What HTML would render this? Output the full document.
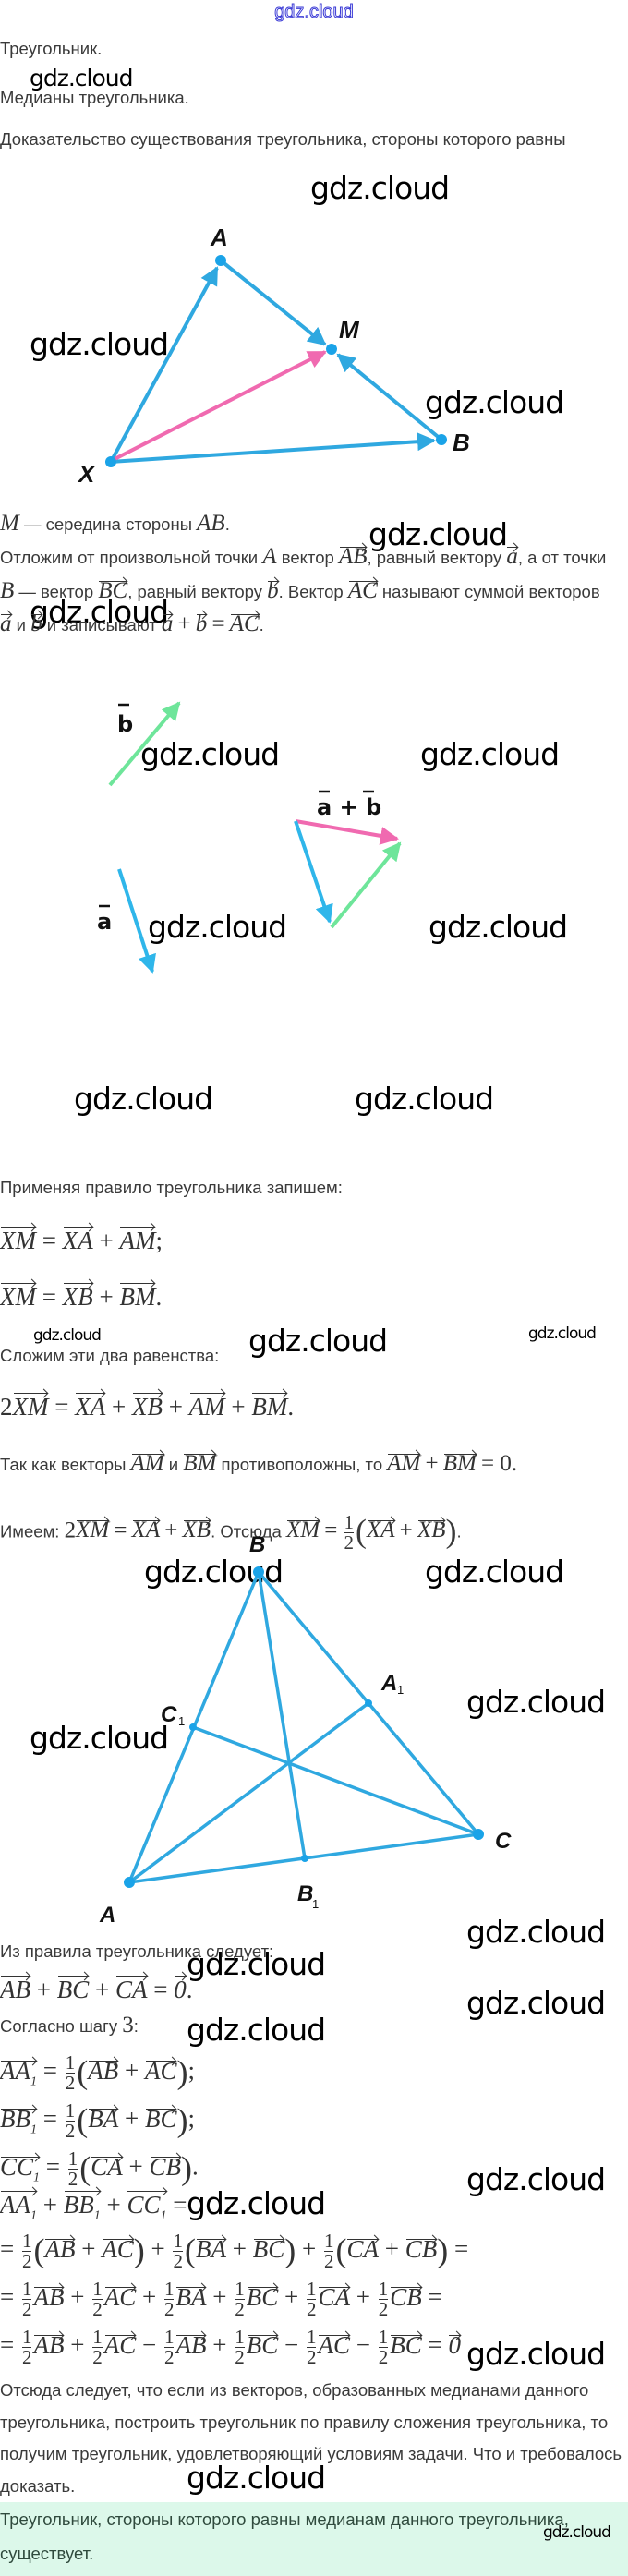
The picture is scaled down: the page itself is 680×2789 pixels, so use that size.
<!DOCTYPE html>
<html><head><meta charset="utf-8">
<style>
body{margin:0;width:680px;height:2789px;position:relative;background:#fff;overflow:hidden;font-family:"Liberation Sans",sans-serif;color:#3a3a3a}
.t{position:absolute;left:0;font-size:18.5px;line-height:22px;white-space:nowrap}
.m{font-family:"Liberation Serif",serif;font-style:italic;font-size:25px;color:#333}
.n{font-family:"Liberation Serif",serif;font-style:normal}
.v{position:relative;display:inline-block;font-family:"Liberation Serif",serif;font-style:italic}
.v::before{content:"";position:absolute;left:1px;right:1px;top:0px;border-top:1.3px solid #333}
.v::after{content:"";position:absolute;right:1px;top:-3px;width:6px;height:6px;border-top:1.3px solid #333;border-right:1.3px solid #333;transform:rotate(45deg)}
.f{display:inline-block;vertical-align:middle;text-align:center;font-family:"Liberation Serif",serif;font-style:normal;line-height:21px;font-size:21px;margin:0 2px}
.f span{display:block}
.f .u{border-bottom:1px solid #333}
.w{position:absolute;font-family:"DejaVu Sans","Liberation Sans",sans-serif;color:#000;white-space:nowrap;letter-spacing:-1px}
.w34{font-size:33px;line-height:36px}
.w26{font-size:25px;line-height:28px}
.w18{font-size:17px;line-height:20px}
.p{font-family:"Liberation Serif",serif;font-style:normal;font-size:36px;vertical-align:-5px}
sub{font-size:14px}
</style></head><body>

<div style="position:absolute;left:0;width:680px;top:2px;text-align:center;font-size:20px;color:#fff;-webkit-text-stroke:1px #3b3bd6;font-family:'Liberation Sans',sans-serif">gdz.cloud</div>

<div class="t" style="top:42px">Треугольник.</div>
<div class="w w26" style="left:32px;top:71px">gdz.cloud</div>
<div class="t" style="top:95px">Медианы треугольника.</div>
<div class="t" style="top:140px">Доказательство существования треугольника, стороны которого равны</div>
<div class="w w34" style="left:336px;top:186px">gdz.cloud</div>

<svg style="position:absolute;left:0;top:0" width="680" height="560">
<defs>
<marker id="hb" viewBox="0 0 10 10" refX="9" refY="5" markerWidth="5" markerHeight="5" orient="auto"><path d="M0,0L10,5L0,10z" fill="#2fa8e0"/></marker>
<marker id="hp" viewBox="0 0 10 10" refX="9" refY="5" markerWidth="5" markerHeight="5" orient="auto"><path d="M0,0L10,5L0,10z" fill="#f06ab0"/></marker>
</defs>
<g stroke-width="4" fill="none">
<line x1="120" y1="500" x2="235" y2="290" stroke="#2fa8e0" marker-end="url(#hb)"/>
<line x1="239" y1="282" x2="352" y2="373" stroke="#2fa8e0" marker-end="url(#hb)"/>
<line x1="478" y1="476" x2="366" y2="384" stroke="#2fa8e0" marker-end="url(#hb)"/>
<line x1="120" y1="500" x2="470" y2="477" stroke="#2fa8e0" marker-end="url(#hb)"/>
<line x1="124" y1="497" x2="352" y2="381" stroke="#f06ab0" marker-end="url(#hp)"/>
</g>
<g fill="#1aa3e8"><circle cx="239" cy="282" r="6"/><circle cx="359" cy="378" r="6"/><circle cx="478" cy="476" r="6"/><circle cx="120" cy="500" r="6"/></g>
<g font-family="Liberation Sans,sans-serif" font-style="italic" font-weight="bold" font-size="26" fill="#111">
<text x="228" y="266">A</text><text x="367" y="366">M</text><text x="490" y="488">B</text><text x="85" y="522">X</text>
</g>
</svg>
<div class="w w34" style="left:32px;top:355px">gdz.cloud</div>
<div class="w w34" style="left:460px;top:418px">gdz.cloud</div>
<div class="w w34" style="left:32px;top:645px">gdz.cloud</div>

<div class="t" style="top:556px"><span class="m">M</span> — середина стороны <span class="m">AB</span>.</div>
<div class="w w34" style="left:399px;top:561px">gdz.cloud</div>
<div class="t" style="top:592px">Отложим от произвольной точки <span class="m">A</span> вектор <span class="v m">AB</span>, равный вектору <span class="v m">a</span>, а от точки</div>
<div class="t" style="top:629px"><span class="m">B</span> — вектор <span class="v m">BC</span>, равный вектору <span class="v m">b</span>. Вектор <span class="v m">AC</span> называют суммой векторов</div>
<div class="t" style="top:665px"><span class="v m">a</span> и <span class="v m">b</span> и записывают <span class="v m">a</span> <span class="m n">+</span> <span class="v m">b</span> <span class="m n">=</span> <span class="v m">AC</span>.</div>

<svg style="position:absolute;left:0;top:700px" width="680" height="400">
<defs>
<marker id="hg" viewBox="0 0 10 10" refX="9" refY="5" markerWidth="5" markerHeight="5" orient="auto"><path d="M0,0L10,5L0,10z" fill="#6ee59a"/></marker>
<marker id="hb2" viewBox="0 0 10 10" refX="9" refY="5" markerWidth="5" markerHeight="5" orient="auto"><path d="M0,0L10,5L0,10z" fill="#2fb6ea"/></marker>
<marker id="hp2" viewBox="0 0 10 10" refX="9" refY="5" markerWidth="5" markerHeight="5" orient="auto"><path d="M0,0L10,5L0,10z" fill="#f06ab0"/></marker>
</defs>
<g stroke-width="4" fill="none">
<line x1="119" y1="150" x2="194" y2="61" stroke="#6ee59a" marker-end="url(#hg)"/>
<line x1="129" y1="241" x2="165" y2="352" stroke="#2fb6ea" marker-end="url(#hb2)"/>
<line x1="320" y1="189" x2="430" y2="208" stroke="#f06ab0" marker-end="url(#hp2)"/>
<line x1="320" y1="189" x2="357" y2="298" stroke="#2fb6ea" marker-end="url(#hb2)"/>
<line x1="359" y1="304" x2="433" y2="213" stroke="#6ee59a" marker-end="url(#hg)"/>
</g>
<g font-family="DejaVu Sans,sans-serif" font-weight="bold" font-size="24" fill="#111">
<text x="127" y="92">b</text><line x1="128" y1="63" x2="140" y2="63" stroke="#111" stroke-width="2.5"/>
<text x="105" y="306">a</text><line x1="107" y1="281" x2="119" y2="281" stroke="#111" stroke-width="2.5"/>
<text x="343" y="182">a + b</text>
<line x1="345" y1="157" x2="357" y2="157" stroke="#111" stroke-width="2.5"/>
<line x1="393" y1="157" x2="405" y2="157" stroke="#111" stroke-width="2.5"/>
</g>
</svg>
<div class="w w34" style="left:152px;top:799px">gdz.cloud</div>
<div class="w w34" style="left:455px;top:799px">gdz.cloud</div>
<div class="w w34" style="left:160px;top:986px">gdz.cloud</div>
<div class="w w34" style="left:464px;top:986px">gdz.cloud</div>
<div class="w w34" style="left:80px;top:1172px">gdz.cloud</div>
<div class="w w34" style="left:384px;top:1172px">gdz.cloud</div>

<div class="t" style="top:1275px">Применяя правило треугольника запишем:</div>
<div class="t m" style="top:1328px;font-size:27px;line-height:30px"><span class="v">XM</span> <span class="n">=</span> <span class="v">XA</span> <span class="n">+</span> <span class="v">AM</span><span class="n">;</span></div>
<div class="t m" style="top:1389px;font-size:27px;line-height:30px"><span class="v">XM</span> <span class="n">=</span> <span class="v">XB</span> <span class="n">+</span> <span class="v">BM</span><span class="n">.</span></div>
<div class="w w18" style="left:36px;top:1436px">gdz.cloud</div>
<div class="w w34" style="left:269px;top:1434px">gdz.cloud</div>
<div class="w w18" style="left:572px;top:1434px">gdz.cloud</div>
<div class="t" style="top:1457px">Сложим эти два равенства:</div>
<div class="t m" style="top:1508px;font-size:27px;line-height:30px"><span class="n">2</span><span class="v">XM</span> <span class="n">=</span> <span class="v">XA</span> <span class="n">+</span> <span class="v">XB</span> <span class="n">+</span> <span class="v">AM</span> <span class="n">+</span> <span class="v">BM</span><span class="n">.</span></div>
<div class="t" style="top:1574px">Так как векторы <span class="v m">AM</span> и <span class="v m">BM</span> противоположны, то <span class="v m">AM</span> <span class="m n">+</span> <span class="v m">BM</span> <span class="m n">= 0.</span></div>
<div class="t" style="top:1638px">Имеем: <span class="m n">2</span><span class="v m">XM</span> <span class="m n">=</span> <span class="v m">XA</span> <span class="m n">+</span> <span class="v m">XB</span>. Отсюда <span class="v m">XM</span> <span class="m n">=</span> <span class="f"><span class="u">1</span><span>2</span></span><span class="p">(</span><span class="v m">XA</span> <span class="m n">+</span> <span class="v m">XB</span><span class="p">)</span>.</div>
<div class="w w34" style="left:156px;top:1684px">gdz.cloud</div>
<div class="w w34" style="left:460px;top:1684px">gdz.cloud</div>

<svg style="position:absolute;left:0;top:1640px" width="680" height="450">
<g stroke="#2fa8e0" stroke-width="3.5" fill="none">
<polygon points="280,62 140,398 518,346"/>
<line x1="280" y1="62" x2="330" y2="372"/>
<line x1="140" y1="398" x2="399" y2="204"/>
<line x1="518" y1="346" x2="209" y2="230"/>
</g>
<g fill="#1aa3e8"><circle cx="280" cy="62" r="6"/><circle cx="140" cy="398" r="6"/><circle cx="518" cy="346" r="6"/><circle cx="399" cy="204" r="4"/><circle cx="209" cy="230" r="4"/><circle cx="330" cy="372" r="4"/></g>
<g font-family="Liberation Sans,sans-serif" font-style="italic" font-weight="bold" font-size="24" fill="#111">
<text x="270" y="40">B</text><text x="108" y="441">A</text><text x="536" y="361">C</text>
<text x="413" y="190">A</text><text x="174" y="224">C</text><text x="322" y="418">B</text>
</g>
<g font-family="Liberation Sans,sans-serif" font-size="13" fill="#111"><text x="430" y="194">1</text><text x="193" y="228">1</text><text x="338" y="426">1</text></g>
</svg>
<div class="w w34" style="left:32px;top:1864px">gdz.cloud</div>
<div class="w w34" style="left:505px;top:1825px">gdz.cloud</div>
<div class="w w34" style="left:505px;top:2074px">gdz.cloud</div>
<div class="w w34" style="left:202px;top:2109px">gdz.cloud</div>

<div class="t" style="top:2102px">Из правила треугольника следует:</div>
<div class="t m" style="top:2139px;font-size:27px;line-height:30px"><span class="v">AB</span> <span class="n">+</span> <span class="v">BC</span> <span class="n">+</span> <span class="v">CA</span> <span class="n">=</span> <span class="v n">0</span><span class="n">.</span></div>
<div class="w w34" style="left:505px;top:2151px">gdz.cloud</div>
<div class="t" style="top:2182px">Согласно шагу <span class="m n">3</span>:</div>
<div class="w w34" style="left:202px;top:2180px">gdz.cloud</div>
<div class="t m" style="top:2223px;font-size:27px"><span class="v">AA<sub>1</sub></span> <span class="n">=</span> <span class="f"><span class="u">1</span><span>2</span></span><span class="p">(</span><span class="v">AB</span> <span class="n">+</span> <span class="v">AC</span><span class="p">)</span><span class="n">;</span></div>
<div class="t m" style="top:2275px;font-size:27px"><span class="v">BB<sub>1</sub></span> <span class="n">=</span> <span class="f"><span class="u">1</span><span>2</span></span><span class="p">(</span><span class="v">BA</span> <span class="n">+</span> <span class="v">BC</span><span class="p">)</span><span class="n">;</span></div>
<div class="t m" style="top:2327px;font-size:27px"><span class="v">CC<sub>1</sub></span> <span class="n">=</span> <span class="f"><span class="u">1</span><span>2</span></span><span class="p">(</span><span class="v">CA</span> <span class="n">+</span> <span class="v">CB</span><span class="p">)</span><span class="n">.</span></div>
<div class="w w34" style="left:505px;top:2342px">gdz.cloud</div>
<div class="t m" style="top:2372px;font-size:27px;line-height:30px"><span class="v">AA<sub>1</sub></span> <span class="n">+</span> <span class="v">BB<sub>1</sub></span> <span class="n">+</span> <span class="v">CC<sub>1</sub></span> <span class="n">=</span></div>
<div class="w w34" style="left:202px;top:2368px">gdz.cloud</div>
<div class="t m" style="top:2416px;font-size:27px"><span class="n">=</span> <span class="f"><span class="u">1</span><span>2</span></span><span class="p">(</span><span class="v">AB</span> <span class="n">+</span> <span class="v">AC</span><span class="p">)</span> <span class="n">+</span> <span class="f"><span class="u">1</span><span>2</span></span><span class="p">(</span><span class="v">BA</span> <span class="n">+</span> <span class="v">BC</span><span class="p">)</span> <span class="n">+</span> <span class="f"><span class="u">1</span><span>2</span></span><span class="p">(</span><span class="v">CA</span> <span class="n">+</span> <span class="v">CB</span><span class="p">)</span> <span class="n">=</span></div>
<div class="t m" style="top:2468px;font-size:27px"><span class="n">=</span> <span class="f"><span class="u">1</span><span>2</span></span><span class="v">AB</span> <span class="n">+</span> <span class="f"><span class="u">1</span><span>2</span></span><span class="v">AC</span> <span class="n">+</span> <span class="f"><span class="u">1</span><span>2</span></span><span class="v">BA</span> <span class="n">+</span> <span class="f"><span class="u">1</span><span>2</span></span><span class="v">BC</span> <span class="n">+</span> <span class="f"><span class="u">1</span><span>2</span></span><span class="v">CA</span> <span class="n">+</span> <span class="f"><span class="u">1</span><span>2</span></span><span class="v">CB</span> <span class="n">=</span></div>
<div class="t m" style="top:2520px;font-size:27px"><span class="n">=</span> <span class="f"><span class="u">1</span><span>2</span></span><span class="v">AB</span> <span class="n">+</span> <span class="f"><span class="u">1</span><span>2</span></span><span class="v">AC</span> <span class="n">−</span> <span class="f"><span class="u">1</span><span>2</span></span><span class="v">AB</span> <span class="n">+</span> <span class="f"><span class="u">1</span><span>2</span></span><span class="v">BC</span> <span class="n">−</span> <span class="f"><span class="u">1</span><span>2</span></span><span class="v">AC</span> <span class="n">−</span> <span class="f"><span class="u">1</span><span>2</span></span><span class="v">BC</span> <span class="n">=</span> <span class="v n">0</span></div>
<div class="w w34" style="left:505px;top:2531px">gdz.cloud</div>
<div class="t" style="top:2577px">Отсюда следует, что если из векторов, образованных медианами данного</div>
<div class="t" style="top:2612px">треугольника, построить треугольник по правилу сложения треугольника, то</div>
<div class="t" style="top:2646px">получим треугольник, удовлетворяющий условиям задачи. Что и требовалось</div>
<div class="t" style="top:2681px">доказать.</div>
<div class="w w34" style="left:202px;top:2665px">gdz.cloud</div>

<div style="position:absolute;left:0;top:2709px;width:680px;height:80px;background:#dcf8ea"></div>
<div class="t" style="top:2717px;color:#2f4a3d;font-size:18.5px">Треугольник, стороны которого равны медианам данного треугольника,</div>
<div class="t" style="top:2754px;color:#2f4a3d;font-size:18.5px">существует.</div>
<div class="w w18" style="left:588px;top:2732px">gdz.cloud</div>
</body></html>
